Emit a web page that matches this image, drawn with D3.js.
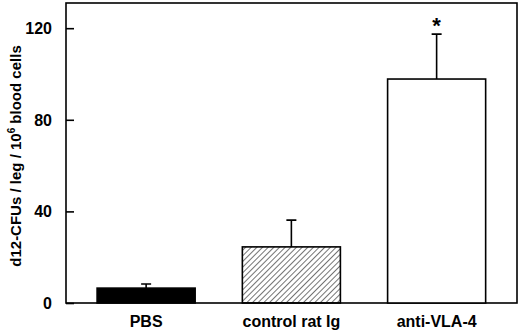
<!DOCTYPE html>
<html>
<head>
<meta charset="utf-8">
<script src="https://cdn.jsdelivr.net/npm/d3@7"></script>
<style>
  body { margin: 0; background: #fff; }
  text { font-family: "Liberation Sans", Arial, sans-serif; font-weight: bold; fill: #000; }
</style>
</head>
<body>
<script>
var w = 520;
var h = 331;

// data
var groups = ["PBS", "control rat Ig", "anti-VLA-4"];
var means = [6.5, 24.5, 97.8];
var errors = [1.8, 11.7, 19.6];
var fills = ["solid", "hatch", "open"];
var yTicks = [0, 40, 80, 120];
var marks = ["", "", "*"];

// plot box (note: "top" is a reserved window property, so use other names)
var pLeft = 66, pRight = 517, pTop = 3, pBottom = 303;

var svg = d3.select("body")
            .append("svg")
            .attr("width", w)
            .attr("height", h);

// hatch pattern for the control bar
var defs = svg.append("defs");
defs.append("pattern")
    .attr("id", "hatch")
    .attr("width", 4)
    .attr("height", 4)
    .attr("patternUnits", "userSpaceOnUse")
    .attr("patternTransform", "rotate(45)")
    .append("line")
    .attr("x1", 0).attr("y1", 0)
    .attr("x2", 0).attr("y2", 4)
    .attr("stroke", "#000")
    .attr("stroke-width", 1.1);

var xScale = d3.scaleBand()
               .domain(groups)
               .range([73.5, 509.25])
               .paddingInner(0.325)
               .paddingOuter(0.1625);

var yScale = d3.scaleLinear()
               .domain([0, 131])
               .range([pBottom, pTop]);

// frame
svg.append("rect")
   .attr("x", pLeft)
   .attr("y", pTop)
   .attr("width", pRight - pLeft)
   .attr("height", pBottom - pTop)
   .attr("fill", "none")
   .attr("stroke", "#000")
   .attr("stroke-width", 1.6);

// y axis with inward ticks
var yAxis = d3.axisRight(yScale)
              .tickValues(yTicks)
              .tickSize(8)
              .tickFormat("");

var ya = svg.append("g")
   .attr("transform", "translate(" + pLeft + ",0)")
   .call(yAxis);
ya.select(".domain").remove();
ya.selectAll("line").attr("stroke-width", 1.6);

svg.selectAll(".ytl")
   .data(yTicks)
   .enter()
   .append("text")
   .attr("class", "ytl")
   .attr("x", pLeft - 14)
   .attr("y", function (d) { return yScale(d) + 6; })
   .attr("text-anchor", "end")
   .style("font-size", "16px")
   .text(function (d) { return d; });

// y label
var yl = svg.append("text")
   .attr("transform", "translate(21,156) rotate(-90)")
   .attr("text-anchor", "middle")
   .style("font-size", "15px");
yl.append("tspan").text("d12-CFUs / leg / 10");
yl.append("tspan").attr("dy", -6).style("font-size", "10px").text("6");
yl.append("tspan").attr("dy", 6).text(" blood cells");

// error bars (drawn first so bar outlines sit on top)
svg.selectAll(".err")
   .data(groups)
   .enter()
   .append("path")
   .attr("class", "err")
   .attr("d", function (d, i) {
       var cx = xScale(d) + xScale.bandwidth() / 2;
       var y0 = yScale(means[i]);
       var y1 = yScale(means[i] + errors[i]);
       return "M" + cx + "," + y0 + "V" + y1 + "M" + (cx - 5) + "," + y1 + "H" + (cx + 5);
   })
   .attr("stroke", "#000")
   .attr("stroke-width", 1.6)
   .attr("fill", "none");

// bars
svg.selectAll(".bar")
   .data(groups)
   .enter()
   .append("rect")
   .attr("class", "bar")
   .attr("x", function (d) { return xScale(d); })
   .attr("y", function (d, i) { return yScale(means[i]); })
   .attr("width", xScale.bandwidth())
   .attr("height", function (d, i) { return pBottom - yScale(means[i]); })
   .attr("fill", function (d, i) {
       if (fills[i] == "solid") return "#000";
       if (fills[i] == "hatch") return "url(#hatch)";
       return "#fff";
   })
   .attr("stroke", "#000")
   .attr("stroke-width", 1.6);

// significance marks
svg.selectAll(".mark")
   .data(groups)
   .enter()
   .append("text")
   .attr("class", "mark")
   .attr("x", function (d) { return xScale(d) + xScale.bandwidth() / 2; })
   .attr("y", function (d, i) { return yScale(means[i] + errors[i]) - 1; })
   .attr("text-anchor", "middle")
   .style("font-size", "22px")
   .text(function (d, i) { return marks[i]; });

// category labels
svg.selectAll(".xl")
   .data(groups)
   .enter()
   .append("text")
   .attr("class", "xl")
   .attr("x", function (d) { return xScale(d) + xScale.bandwidth() / 2; })
   .attr("y", 327)
   .attr("text-anchor", "middle")
   .style("font-size", "16px")
   .text(function (d) { return d; });
</script>
</body>
</html>
